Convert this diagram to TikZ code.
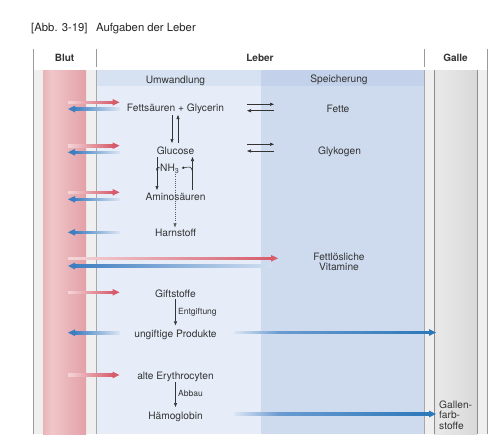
\documentclass[tikz,border=0pt]{standalone}
\usepackage{fontspec}
\setmainfont{TeX Gyre Heros}
\usetikzlibrary{arrows.meta,calc}
\definecolor{txt}{HTML}{333333}
\definecolor{redhead}{HTML}{D65C6B}
\definecolor{redtail}{HTML}{F4D6D9}
\definecolor{bluehead}{HTML}{3D7EC1}
\definecolor{bluetail}{HTML}{DCE5F3}
\definecolor{bluemid}{HTML}{6A9BD0}
\definecolor{bluedeep}{HTML}{2C78BA}
\definecolor{bluepale}{HTML}{D3DFF1}
\definecolor{umw}{HTML}{E6EDF8}
\definecolor{umwband}{HTML}{D6E1F1}
\definecolor{spe}{HTML}{CEDBEF}
\definecolor{speband}{HTML}{C3D2EA}
\definecolor{strip}{HTML}{EFEFEF}
\definecolor{rulec}{HTML}{9A9A9A}
\definecolor{bodyrule}{HTML}{A8A8A8}
\definecolor{tubeedge}{HTML}{8E8E8E}
\definecolor{bloodA}{HTML}{CD7A83}
\definecolor{bloodB}{HTML}{DA939A}
\definecolor{bloodC}{HTML}{F0C6C9}
\definecolor{bloodD}{HTML}{E2A1A7}
\definecolor{bloodE}{HTML}{D27E87}
\definecolor{bloodF}{HTML}{C8727C}
\definecolor{galA}{HTML}{CFCFCF}
\definecolor{galB}{HTML}{E8E8E8}
\definecolor{galC}{HTML}{D0D0D0}
\pgfdeclarehorizontalshading{bloodshade}{100bp}{color(0bp)=(bloodA); color(6bp)=(bloodB); color(35bp)=(bloodC); color(75bp)=(bloodD); color(95bp)=(bloodE); color(100bp)=(bloodF)}
\pgfdeclarehorizontalshading{galleshade}{100bp}{color(0bp)=(galA); color(30bp)=(galB); color(100bp)=(galC)}
% right-pointing gradient arrow: #1 tail, #2 head, #3 tail colour, #4 head colour
\newcommand\rarr[4]{%
  \shade[left color=#3,right color=#4] ($(#1)+(0,-1.3)$) rectangle ($(#2)+(-6,1.3)$);
  \fill[#4] (#2) -- ($(#2)+(-7,-3.4)$) -- ($(#2)+(-7,3.4)$) -- cycle;}
% left-pointing gradient arrow: #1 tail, #2 head
\newcommand\larr[4]{%
  \shade[left color=#4,right color=#3] ($(#2)+(6,-1.3)$) rectangle ($(#1)+(0,1.3)$);
  \fill[#4] (#2) -- ($(#2)+(7,-3.4)$) -- ($(#2)+(7,3.4)$) -- cycle;}
% long right arrow with quick fade-in: #1 tail, #2 head, #3 tail col, #4 mid col, #5 head col, #6 fade length
\newcommand\rarrlong[6]{%
  \shade[left color=#3,right color=#4] ($(#1)+(0,-1.3)$) rectangle ($(#1)+(#6,1.3)$);
  \shade[left color=#4,right color=#5] ($(#1)+(#6,-1.3)$) rectangle ($(#2)+(-6,1.3)$);
  \fill[#5] (#2) -- ($(#2)+(-7,-3.4)$) -- ($(#2)+(-7,3.4)$) -- cycle;}
\begin{document}
\begin{tikzpicture}[x=1pt,y=-1pt,
  lbl/.style={font=\fontsize{10.2}{12}\selectfont, text=txt, inner sep=0pt, anchor=base},
  small/.style={font=\fontsize{8.5}{10}\selectfont, text=txt, inner sep=0pt, anchor=base west},
  hdr/.style={font=\fontsize{10}{12}\selectfont\bfseries, text=txt, inner sep=0pt, anchor=base},
  ttl/.style={font=\fontsize{11.3}{13}\selectfont, text=black!85, inner sep=0pt, anchor=base west},
  thinarr/.style={draw=txt, line width=0.6pt, -{Triangle[length=4pt,width=3pt]}},
  hook/.style={draw=txt, line width=0.6pt, -{Triangle[length=2.6pt,width=2.4pt]}},
  dotarr/.style={draw=txt!80, line width=0.6pt, dash pattern=on 0.8pt off 1.4pt, -{Triangle[length=4pt,width=3pt]}},
  rulel/.style={draw=rulec, line width=0.8pt},
  bodyl/.style={draw=bodyrule, line width=0.9pt},
  tubel/.style={draw=tubeedge, line width=0.9pt}]
\useasboundingbox (0,0) rectangle (500,444);
\fill[white] (0,0) rectangle (500,444);

% title
\node[ttl] (title) at (31,31.5) {[Abb. 3-19]\hspace{8.5pt}Aufgaben der Leber};

% column backgrounds
\fill[strip] (33,70) rectangle (96,434);
\shade[shading=bloodshade] (43,70) rectangle (86,434);
\fill[umw] (96,70) rectangle (261,434);
\fill[spe] (261,70) rectangle (424,434);
\fill[umwband] (96,70) rectangle (261,86);
\fill[speband] (261,70) rectangle (424,86);
\fill[strip] (424,70) rectangle (487,434);
\shade[shading=galleshade] (434,70) rectangle (477,434);
\draw[tubel] (434,70) -- (434,434);
\draw[tubel] (477,70) -- (477,434);

% rules
\draw[rulel] (33,49) -- (33,434);
\draw[rulel] (487,49) -- (487,434);
\draw[rulel] (96,49) -- (96,67);
\draw[rulel] (424,49) -- (424,67);
\draw[bodyl] (96,70) -- (96,434);
\draw[bodyl] (424,70) -- (424,434);

% headers
\node[hdr] (hblut) at (64.5,61.3) {Blut};
\node[hdr] (hleber) at (260,61.3) {Leber};
\node[hdr] (hgalle) at (455.5,61.3) {Galle};
\node[lbl] (umwandlung) at (175.5,83.3) {Umwandlung};
\node[lbl] (speicherung) at (339,82.7) {Speicherung};

% labels
\node[lbl] (fg) at (175.5,111.5) {Fettsäuren + Glycerin};
\node[lbl] (fette) at (338,112) {Fette};
\node[lbl] (glu) at (175.5,154) {Glucose};
\node[lbl] (glyk) at (339.5,154) {Glykogen};
\node[lbl, anchor=base west] (nh) at (160,171.7) {NH\textsubscript{3}};
\node[lbl] (amino) at (175.5,200) {Aminosäuren};
\node[lbl] (harn) at (175.5,236.7) {Harnstoff};
\node[lbl, anchor=north, align=center, font=\fontsize{10.2}{10.7}\selectfont] (vit) at (339,252.6) {Fettlösliche\\Vitamine};
\node[lbl] (gift) at (175.5,297.3) {Giftstoffe};
\node[small] (entg) at (178,314.3) {Entgiftung};
\node[lbl] (ungift) at (175.5,337.3) {ungiftige Produkte};
\node[lbl] (ery) at (175.5,379) {alte Erythrocyten};
\node[small] (abbau) at (178,396) {Abbau};
\node[lbl] (haem) at (175.5,419) {Hämoglobin};
\node[lbl, anchor=north west, align=left, font=\fontsize{10.2}{10.6}\selectfont] (gfs) at (439,400.3) {Gallen-\\farb-\\stoffe};

% conversion arrows
\draw[thinarr] ($(fg.base)+(-3.5,3.5)$) -- ($(glu.base)+(-3.5,-11)$);
\draw[thinarr] ($(glu.base)+(2.5,-11)$) -- ($(fg.base)+(2.5,3.5)$);
\draw[thinarr] ($(glu.base)+(-18.5,3)$) -- ($(amino.base)+(-18.5,-10)$);
\draw[thinarr] ($(amino.base)+(17,-10)$) -- ($(glu.base)+(17,3)$);
\draw[hook] ($(nh.base west)+(0.3,-3.6)$) .. controls ($(nh.base west)+(-2.2,-4.6)$) .. ($(nh.base west)+(-3.2,-0.6)$);
\draw[hook] ($(amino.base)+(17,-28.5)$) .. controls ($(amino.base)+(15.5,-33.5)$) .. ($(nh.base west)+(21.5,-3.6)$);
\draw[dotarr] ($(nh.base west)+(15,2.5)$) -- ($(harn.base)+(-0.5,-9.3)$);
\draw[thinarr] ($(gift.base)+(0,2)$) -- ($(ungift.base)+(0,-12)$);
\draw[thinarr] ($(ery.base)+(0,3)$) -- ($(haem.base)+(0,-12)$);

% equilibrium arrows
\coordinate (e1l) at (247,104.3); \coordinate (e1r) at (274,104.3);
\coordinate (e2l) at (247,110.7); \coordinate (e2r) at (274,110.7);
\coordinate (e3l) at (247,144.3); \coordinate (e3r) at (274,144.3);
\coordinate (e4l) at (247,151);   \coordinate (e4r) at (274,151);
\draw[thinarr] (e1l) -- (e1r);
\draw[thinarr] (e2r) -- (e2l);
\draw[thinarr] (e3l) -- (e3r);
\draw[thinarr] (e4r) -- (e4l);

% blood exchange arrows
\coordinate (r1t) at (68,102.3);  \coordinate (r1h) at (119.5,102.3);
\coordinate (b1h) at (68,109);    \coordinate (b1t) at (120,109);
\coordinate (r2t) at (68,145.7);  \coordinate (r2h) at (119.5,145.7);
\coordinate (b2h) at (68,152.3);  \coordinate (b2t) at (120,152.3);
\coordinate (r3t) at (68,192.3);  \coordinate (r3h) at (119.5,192.3);
\coordinate (b3h) at (68,199.3);  \coordinate (b3t) at (120,199.3);
\coordinate (b4h) at (68,232.3);  \coordinate (b4t) at (120,232.3);
\coordinate (r5t) at (68,258.3);  \coordinate (r5h) at (278,258.3);
\coordinate (b5h) at (68,266);    \coordinate (b5t) at (272,266);
\coordinate (r6t) at (68,292.3);  \coordinate (r6h) at (119.5,292.3);
\coordinate (b7h) at (68,332.7);  \coordinate (b7t) at (120,332.7);
\coordinate (g1t) at (234,332.5); \coordinate (g1h) at (436,332.5);
\coordinate (r8t) at (68,375);    \coordinate (r8h) at (119.5,375);
\coordinate (g2t) at (234,414);   \coordinate (g2h) at (436,414);

\rarr{r1t}{r1h}{redtail}{redhead}
\larr{b1t}{b1h}{bluetail}{bluehead}
\rarr{r2t}{r2h}{redtail}{redhead}
\larr{b2t}{b2h}{bluetail}{bluehead}
\rarr{r3t}{r3h}{redtail}{redhead}
\larr{b3t}{b3h}{bluetail}{bluehead}
\larr{b4t}{b4h}{bluetail}{bluehead}
\rarr{r5t}{r5h}{redtail}{redhead}
\larr{b5t}{b5h}{bluepale}{bluehead}
\rarr{r6t}{r6h}{redtail}{redhead}
\larr{b7t}{b7h}{bluetail}{bluehead}
\rarrlong{g1t}{g1h}{bluetail}{bluemid}{bluedeep}{45}
\rarr{r8t}{r8h}{redtail}{redhead}
\rarrlong{g2t}{g2h}{bluetail}{bluemid}{bluedeep}{45}
\end{tikzpicture}
\end{document}
